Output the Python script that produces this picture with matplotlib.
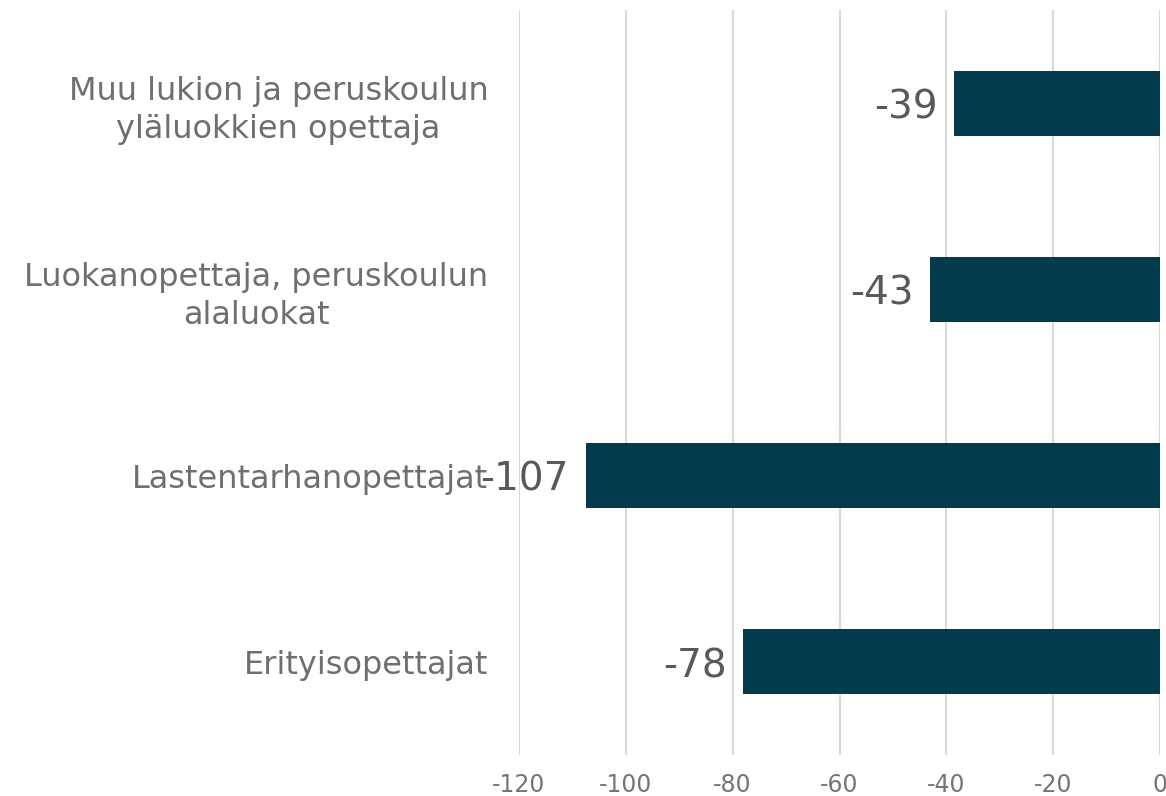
import matplotlib
matplotlib.use("Agg")
import matplotlib.pyplot as plt

categories = ["Muu lukion ja peruskoulun\nyläluokkien opettaja",
              "Luokanopettaja, peruskoulun\nalaluokat",
              "Lastentarhanopettajat",
              "Erityisopettajat"]
values = [-38.5, -43, -107.5, -78]
labels = ["-39", "-43", "-107", "-78"]
xticks = [-120, -100, -80, -60, -40, -20, 0]

plt.rcParams['font.family'] = ['DejaVu Sans']
fig = plt.figure(figsize=(11.66, 7.96), dpi=100)
ax = fig.add_axes([519/1166, 1-755/796, (1160-519)/1166, (755-10)/796])

ypos = list(range(len(categories)))
ax.barh(ypos, values, height=0.35, color="#023B4B", zorder=3)
ax.set_ylim(len(categories)-0.5, -0.5)
ax.set_xlim(-120, 0)
ax.set_xticks(xticks)
ax.set_xticklabels([str(t) for t in xticks], fontsize=17, color="#767676")
ax.tick_params(axis='x', length=0, pad=13)
ax.set_yticks(ypos)
ax.set_yticklabels(categories, fontsize=23, color="#6f6f6f", multialignment='center',
                   linespacing=1.3)
ax.tick_params(axis='y', length=0, pad=22)
for s in ax.spines.values():
    s.set_visible(False)
ax.grid(axis='x', color="#d9d9d9", linewidth=1.5, zorder=0)
ax.set_axisbelow(True)

for y, v, lab in zip(ypos, values, labels):
    ax.annotate(lab, (v, y), xytext=(-12, -3), textcoords='offset points',
                ha='right', va='center', fontsize=28, color="#595959", zorder=4)

fig.savefig("out.png", dpi=100)
